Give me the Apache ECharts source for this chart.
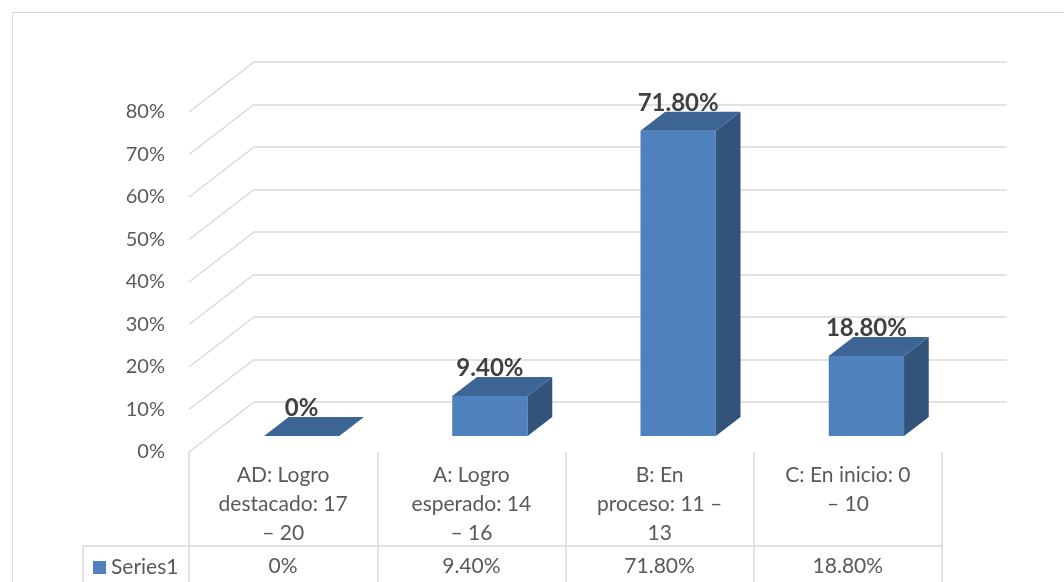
<!DOCTYPE html>
<html>
<head>
<meta charset="utf-8">
<script src="https://cdn.jsdelivr.net/npm/echarts@6/dist/echarts.min.js"></script>
<style>html,body{margin:0;padding:0;background:#fff;}#c{width:1064px;height:582px;}</style>
</head>
<body>
<div id="c"></div>
<script>
// ---- data ----
const categories = ['AD: Logro\ndestacado: 17\n– 20', 'A: Logro\nesperado: 14\n– 16', 'B: En\nproceso: 11 –\n13', 'C: En inicio: 0\n– 10'];
const values = [0, 9.4, 71.8, 18.8];
const seriesName = 'Series1';
const yTicks = [0, 10, 20, 30, 40, 50, 60, 70, 80];

// ---- style constants ----
const DEPTH_X = 65, DEPTH_Y = 50;       // full depth offset of the 3D box
const BAR_FRONT_X = 0.285, BAR_FRONT_Y = 0.32, BAR_DEPTH = 0.38;
const FRONT = '#4f81bd', TOPC = '#3c6494', SIDE = '#32537a';
const GRID_C = '#d9d9d9', TXT = '#595959';
const FONT = 'Lato, "Open Sans", sans-serif';

function fmtVal(v) { return v === 0 ? '0%' : v.toFixed(2) + '%'; }

const chart = echarts.init(document.getElementById('c'), null, {renderer: 'canvas'});

function renderBar(params, api) {
  const i = api.value(0), v = api.value(1);
  const base = api.coord([i, 0]), top = api.coord([i, v]);
  const band = api.size([1, 0])[0];
  const w = band * 0.4;
  const sx = DEPTH_X * BAR_FRONT_X, sy = DEPTH_Y * BAR_FRONT_Y;
  const dx = DEPTH_X * BAR_DEPTH, dy = DEPTH_Y * BAR_DEPTH;
  const l = base[0] + sx - w / 2, r = l + w;
  const b = base[1] - sy, t = top[1] - sy;
  const children = [];
  if (b - t > 0.5) {
    children.push({type: 'rect', shape: {x: l, y: t, width: w, height: b - t}, style: {fill: FRONT}});
    children.push({type: 'polygon', shape: {points: [[r, t], [r + dx, t - dy], [r + dx, b - dy], [r, b]]}, style: {fill: SIDE}});
  }
  children.push({type: 'polygon', shape: {points: [[l, t], [r, t], [r + dx, t - dy], [l + dx, t - dy]]}, style: {fill: TOPC}});
  children.push({type: 'text', x: l + w / 2, y: t - 28, style: {
    text: fmtVal(v), fill: '#404040', font: 'bold 24px ' + FONT, align: 'center', verticalAlign: 'middle'}});
  return {type: 'group', children: children};
}

function renderDiag(params, api) {
  const v = api.value(1);
  const p = api.coord([0, v]);
  const band = api.size([1, 0])[0];
  const x = p[0] - band / 2, y = p[1];
  return {type: 'line', shape: {x1: x, y1: y, x2: x + DEPTH_X, y2: y - DEPTH_Y},
    style: {stroke: GRID_C, lineWidth: 1.5}};
}

const option = {
  animation: false,
  textStyle: {fontFamily: FONT},
  graphic: [{type: 'rect', shape: {x: 12.5, y: 12.5, width: 1200, height: 700},
    style: {fill: 'none', stroke: GRID_C, lineWidth: 1}, silent: true, z: -10},
    {type: 'line', shape: {x1: 83, y1: 546, x2: 189, y2: 546}, style: {stroke: GRID_C, lineWidth: 1.5}},
    {type: 'line', shape: {x1: 83, y1: 546, x2: 83, y2: 590}, style: {stroke: GRID_C, lineWidth: 1.5}}
  ],
  legend: {
    data: [seriesName], left: 88, top: 552, icon: 'rect', itemWidth: 13, itemHeight: 13, itemGap: 10,
    textStyle: {fontSize: 21, color: TXT, fontFamily: FONT}
  },
  grid: [
    {left: 189, right: 122, top: 112, bottom: 130},
    {left: 189 + DEPTH_X, right: 122 - DEPTH_X, top: 112 - DEPTH_Y, bottom: 130 + DEPTH_Y}
  ],
  xAxis: [
    {type: 'category', gridIndex: 0, data: categories, position: 'bottom',
      axisLine: {show: false},
      axisTick: {show: true, length: 140, lineStyle: {color: GRID_C, width: 1.5}},
      axisLabel: {interval: 0, margin: 9, fontSize: 21, lineHeight: 29, color: TXT, fontFamily: FONT, verticalAlign: 'top'}},
    {type: 'category', gridIndex: 0, data: values.map(fmtVal), position: 'bottom', offset: 94,
      axisLine: {show: true, lineStyle: {color: GRID_C, width: 1.5}},
      axisTick: {show: false},
      axisLabel: {interval: 0, margin: 10, fontSize: 21, color: TXT, fontFamily: FONT}},
    {type: 'category', gridIndex: 1, data: categories, show: false}
  ],
  yAxis: [
    {type: 'value', gridIndex: 0, min: 0, max: 80, interval: 10,
      axisLine: {show: false}, axisTick: {show: false}, splitLine: {show: false},
      axisLabel: {formatter: v => v + '%', fontSize: 20, color: TXT, margin: 24, fontFamily: FONT}},
    {type: 'value', gridIndex: 1, min: 0, max: 80, interval: 10,
      axisLine: {show: false}, axisTick: {show: false}, axisLabel: {show: false},
      splitLine: {show: true, lineStyle: {color: GRID_C, width: 1.5}}}
  ],
  series: [
    {type: 'custom', name: 'walls', xAxisIndex: 0, yAxisIndex: 0, renderItem: renderDiag,
      data: yTicks.map(v => [0, v]), silent: true, z: 1},
    {type: 'custom', name: seriesName, xAxisIndex: 0, yAxisIndex: 0, renderItem: renderBar,
      itemStyle: {color: FRONT},
      data: values.map((v, i) => [i, v]), z: 5}
  ]
};
chart.setOption(option);
</script>
</body>
</html>
